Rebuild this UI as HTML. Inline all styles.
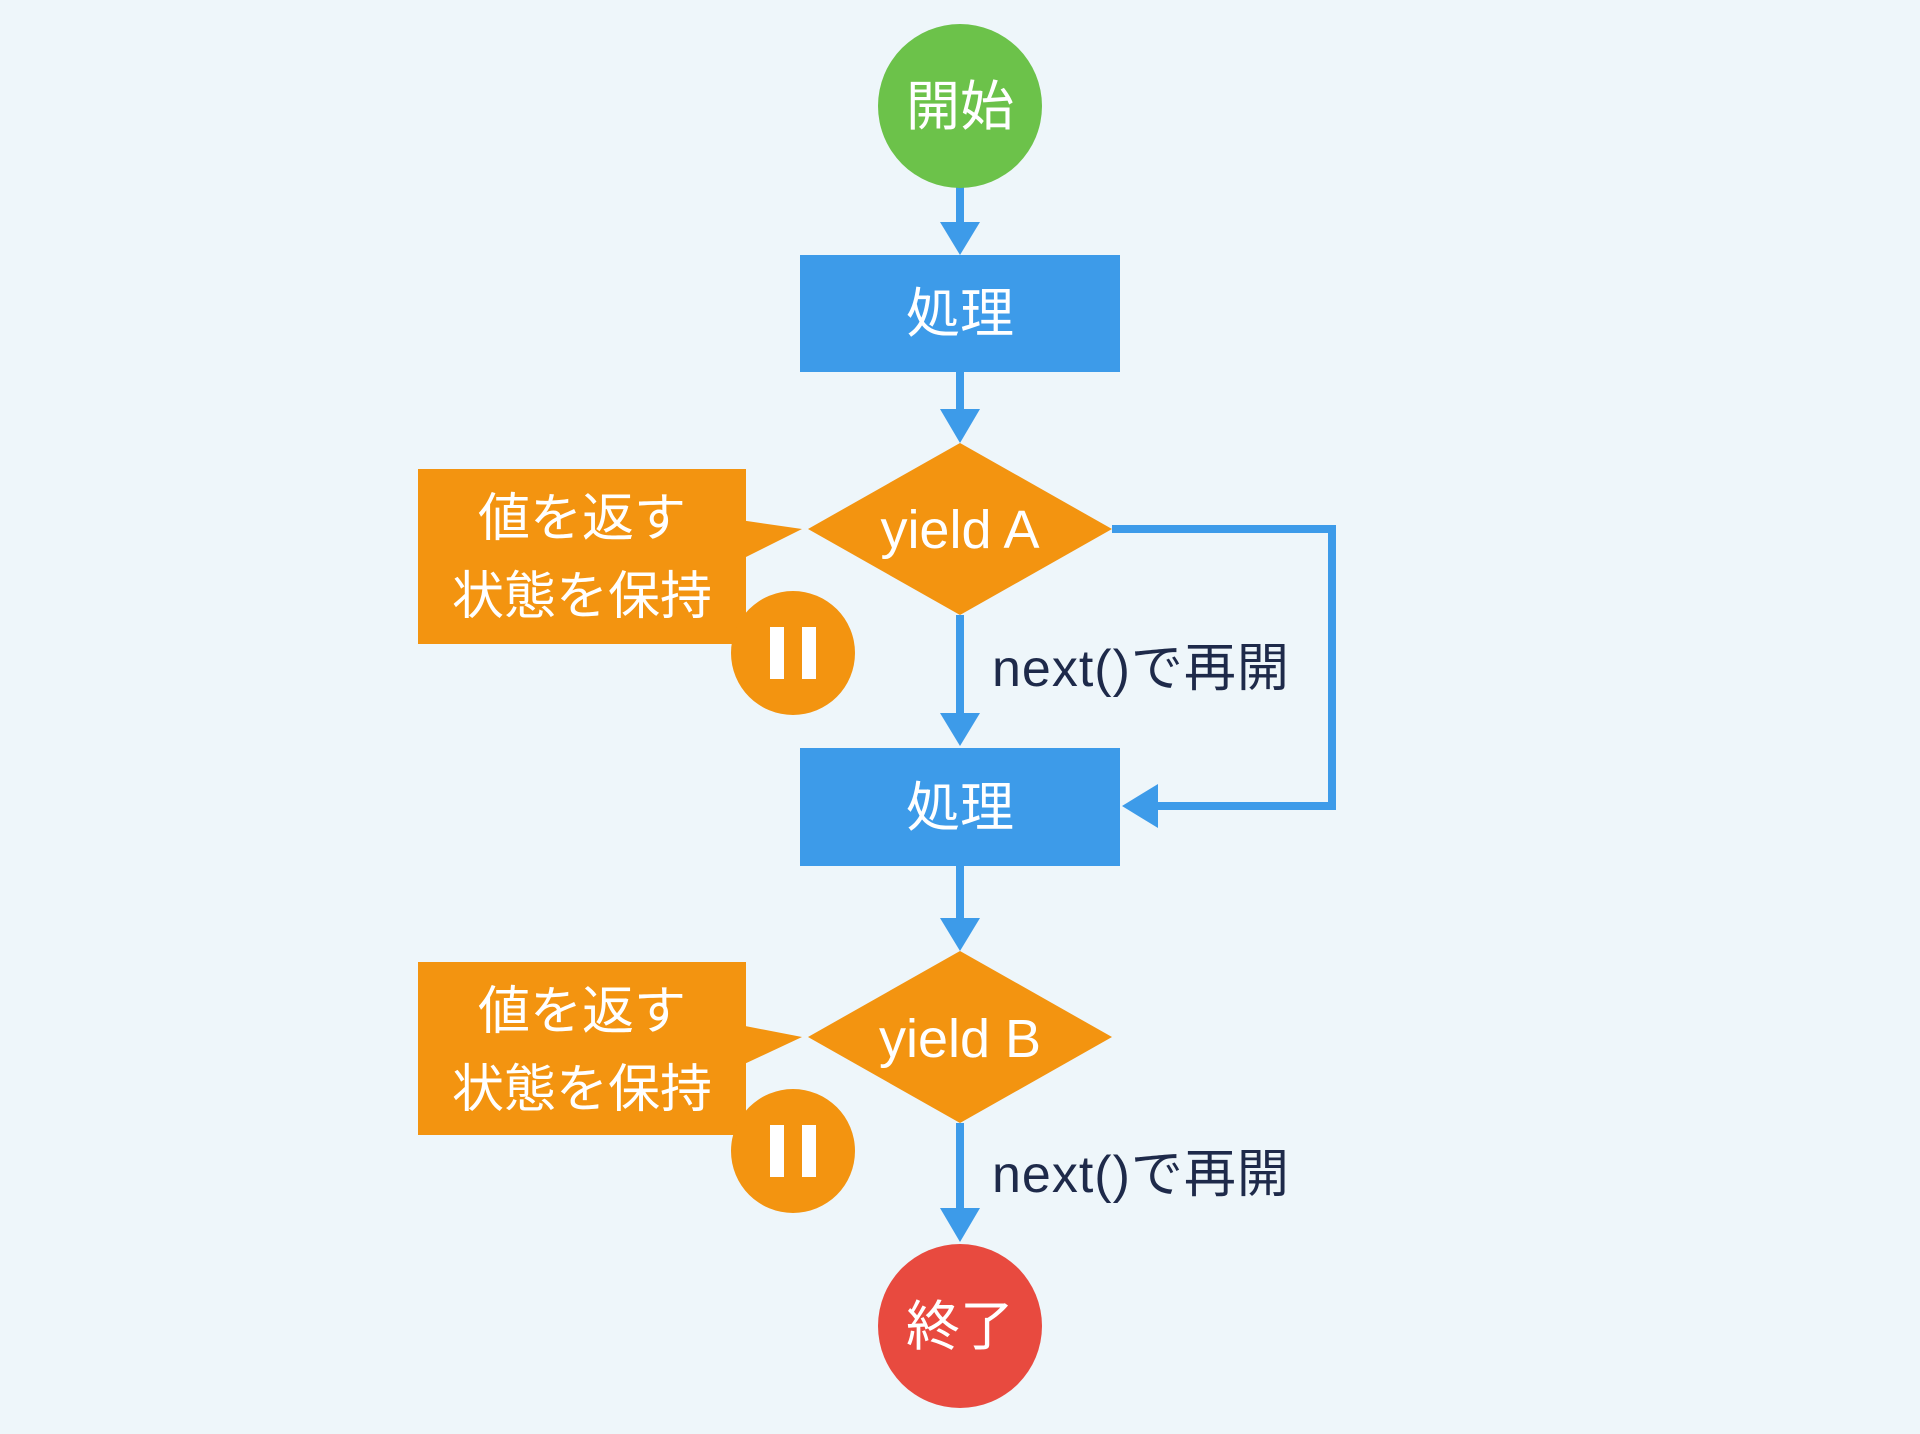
<!DOCTYPE html>
<html><head><meta charset="utf-8"><style>
html,body{margin:0;padding:0;background:#eef6fa;}
svg{display:block;}
text{font-family:"Liberation Sans","Noto Sans CJK JP",sans-serif;}
</style></head><body>
<svg width="1920" height="1434" viewBox="0 0 1920 1434" xmlns="http://www.w3.org/2000/svg">
<rect width="1920" height="1434" fill="#eef6fa"/>
<g fill="none" stroke="#3d9be9" stroke-width="8">
<line x1="960" y1="185" x2="960" y2="230"/>
<line x1="960" y1="372" x2="960" y2="418"/>
<line x1="960" y1="615" x2="960" y2="720"/>
<line x1="960" y1="866" x2="960" y2="925"/>
<line x1="960" y1="1123" x2="960" y2="1215"/>
<polyline points="1112,529 1332,529 1332,806 1150,806"/>
</g>
<g fill="#3d9be9">
<polygon points="940,222 980,222 960,255"/>
<polygon points="940,409 980,409 960,443"/>
<polygon points="940,713 980,713 960,746"/>
<polygon points="940,918 980,918 960,951"/>
<polygon points="940,1208 980,1208 960,1242"/>
<polygon points="1158,784 1158,828 1122,806"/>
</g>
<circle cx="960" cy="106" r="82" fill="#6cc24a"/>
<text x="960" y="125" font-size="54" fill="#fff" text-anchor="middle">開始</text>
<rect x="800" y="255" width="320" height="117" fill="#3d9be9"/>
<text x="960" y="332" font-size="54" fill="#fff" text-anchor="middle">処理</text>
<polygon points="960,443 1112,529 960,615 808,529" fill="#f39410"/>
<text x="960" y="548" font-size="54" fill="#fff" text-anchor="middle">yield A</text>
<rect x="418" y="469" width="328" height="175" fill="#f39410"/>
<polygon points="740,520 802,529 740,560" fill="#f39410"/>
<text x="582" y="536" font-size="52" fill="#fff" text-anchor="middle">値を返す</text>
<text x="582" y="614" font-size="52" fill="#fff" text-anchor="middle">状態を保持</text>
<circle cx="793" cy="653" r="62" fill="#f39410"/>
<rect x="770" y="627" width="14" height="52" fill="#fff"/>
<rect x="802" y="627" width="14" height="52" fill="#fff"/>
<text x="992" y="686" font-size="52" letter-spacing="1" fill="#1e2a4a">next()で再開</text>
<rect x="800" y="748" width="320" height="118" fill="#3d9be9"/>
<text x="960" y="826" font-size="54" fill="#fff" text-anchor="middle">処理</text>
<polygon points="960,951 1112,1037 960,1123 808,1037" fill="#f39410"/>
<text x="960" y="1057" font-size="54" fill="#fff" text-anchor="middle">yield B</text>
<rect x="418" y="962" width="328" height="173" fill="#f39410"/>
<polygon points="740,1025 802,1037 740,1066" fill="#f39410"/>
<text x="582" y="1029" font-size="52" fill="#fff" text-anchor="middle">値を返す</text>
<text x="582" y="1107" font-size="52" fill="#fff" text-anchor="middle">状態を保持</text>
<circle cx="793" cy="1151" r="62" fill="#f39410"/>
<rect x="770" y="1125" width="14" height="52" fill="#fff"/>
<rect x="802" y="1125" width="14" height="52" fill="#fff"/>
<text x="992" y="1192" font-size="52" letter-spacing="1" fill="#1e2a4a">next()で再開</text>
<circle cx="960" cy="1326" r="82" fill="#e84a3f"/>
<text x="960" y="1345" font-size="54" fill="#fff" text-anchor="middle">終了</text>
</svg>
</body></html>
